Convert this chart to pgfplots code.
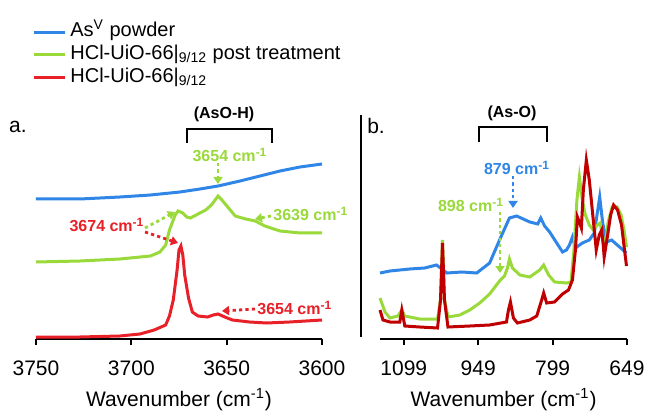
\documentclass[border=0pt]{standalone}
\usepackage{pgfplots}
\pgfplotsset{compat=1.18}
\usepackage{fontspec}
\setmainfont{Liberation Sans}
\usetikzlibrary{arrows.meta}
\definecolor{blueC}{HTML}{2F86E6}
\definecolor{greenC}{HTML}{9AD93A}
\definecolor{redC}{HTML}{E82028}
\definecolor{dredC}{HTML}{C00000}
\newcommand{\cmi}{cm\textsuperscript{-1}}
\begin{document}
\begin{tikzpicture}
\path[use as bounding box] (0,0) rectangle (323pt,206pt);
\pgfplotsset{
  panel/.style={
    at={(#1,36.5pt)}, anchor=south west, scale only axis,
    height=112pt, ymin=0, ymax=224,
    x dir=reverse,
    axis x line*=bottom, axis y line=none,
    ytick=\empty,
    tick align=outside, major tick length=3pt,
    every tick/.style={black, line width=1pt},
    axis line style={line width=1pt},
    x axis line style={-},
    tick label style={font=\fontsize{10.5}{12}\selectfont},
    xticklabel shift=4.5pt,
    /pgf/number format/assume math mode=true,
    /pgf/number format/1000 sep={},
    xlabel={Wavenumber (cm\textsuperscript{-1})},
    label style={font=\fontsize{10.5}{12}\selectfont},
    xlabel style={yshift=0.5pt},
    clip=false,
  },
}
\begin{axis}[panel=18pt, width=143pt, xmin=3600, xmax=3750,
  xtick={3750,3700,3650,3600},
  legend style={draw=none, fill=none, at={(-0.035,1.44)}, anchor=north west,
    font=\fontsize{10}{12}\selectfont, row sep=0pt,
    nodes={inner ysep=0pt, text height=8pt, text depth=3.3pt}},
  legend cell align=left,
  legend image code/.code={\draw[#1, line width=1.5pt] (0pt,0pt) -- (15.5pt,0pt);},
]
\addplot[blueC, line width=1.5pt] coordinates {
(3750,140) (3727,140) (3706,142) (3690,144) (3674.5,147) (3664,150) (3654.5,153)
(3643,158) (3632.5,163) (3622,168) (3611.5,172) (3600,175)};
\addlegendentry{As\textsuperscript{V} powder}
\addplot[greenC, line width=1.5pt] coordinates {
(3750,77) (3727,78) (3706,80) (3690,83) (3685,87) (3682,94) (3680,109) (3677,124)
(3675.5,128) (3673,126) (3671,122) (3669,121) (3666,124) (3661,129) (3658,134)
(3654.5,143) (3652.5,139) (3649,131) (3645.5,123) (3640,120) (3635,118) (3630,113)
(3622,108) (3611.5,106) (3600,106)};
\addlegendentry{HCl-UiO-66|\textsubscript{9/12} post treatment}
\addplot[redC, line width=1.5pt] coordinates {
(3750,2) (3727,2) (3706,3) (3695.5,5) (3688,9) (3682,14) (3680,23) (3678,39)
(3676,69) (3675,89) (3674,93) (3673,84) (3672,64) (3670,41) (3668,27) (3665,23)
(3660,22) (3657,24) (3654.5,25) (3651,22) (3647,19) (3638,17) (3629,16) (3617,17) (3600,19)};
\addlegendentry{HCl-UiO-66|\textsubscript{9/12}}
\end{axis}
\begin{axis}[panel=190pt, width=123.5pt, xmin=649, xmax=1147,
  xtick={1099,949,799,649}]
\addplot[blueC, line width=1.5pt] coordinates {
(1147,66) (1127,68) (1087,70) (1057,71) (1033,74) (1012,66) (982,67) (952,66)
(926,76) (906,99) (886,121) (871.5,123) (845,117) (829,115) (823,121) (815,113)
(805,107) (779,87) (771,89) (765,94) (759,102) (753,91) (739,96) (725,99) (715,106)
(704,142) (698,116) (690,97) (680,99) (664,92) (650,86)};
\addplot[greenC, line width=1.5pt] coordinates {
(1147,41) (1137,27) (1127,21) (1111,23) (1103,29) (1097,23) (1067,20) (1031,20)
(1025,39) (1021,99) (1017,39) (1010,22) (986,24) (966,29) (946,36) (926,45) (906,58)
(896,63) (890,71) (886,80) (880,71) (865,64) (845,62) (825,69) (817,74) (807,64)
(795,57) (770,56) (762,57) (756,89) (750,139) (745,162) (739,139) (733,124) (725,114)
(717,109) (709,114) (703,116) (697,99) (693,94) (687,117) (679,132) (669,132)
(661,124) (655,109) (650,92)};
\addplot[dredC, line width=1.5pt] coordinates {
(1147,29) (1141,19) (1127,17) (1107,17) (1103,29) (1097,13) (1067,12) (1031,11)
(1025,39) (1021,96) (1017,39) (1010,12) (966,13) (926,14) (892,17) (888,29) (884,37)
(878,21) (870,16) (845,19) (831,23) (821,39) (817,46) (811,36) (795,37) (779,45)
(767,49) (759,59) (753,89) (749,122) (745,117) (741,111) (737,149) (731,179)
(725,159) (721,139) (715,109) (711,89) (705,104) (700,109) (697,94) (695,82)
(688,104) (682,124) (676,134) (668,129) (660,114) (654,89) (650,73)};
\end{axis}
\begin{scope}[shift={(0pt,206pt)}, x=0.5pt, y=-0.5pt]
\tikzset{lab/.style={font=\fontsize{8}{9.5}\selectfont\bfseries, inner sep=0pt},
  darr/.style={line width=1.4pt, dash pattern=on 1.6pt off 1.6pt,
    -{Triangle[length=3.5pt,width=4.5pt]}}}
\node[font=\fontsize{10.5}{12}\selectfont, inner sep=0pt] at (18,127) {a.};
\node[font=\fontsize{10.5}{12}\selectfont, inner sep=0pt] at (376,126) {b.};
\draw[line width=1.3pt] (361,115) -- (361,337);
% panel a annotations
\node[lab] at (224,114) {(AsO-H)};
\draw[line width=1pt] (187,143) -- (187,129) -- (272,129) -- (272,143);
\node[lab, greenC] at (230,155) {3654 \cmi};
\draw[darr, greenC] (218,163) -- (218,184);
\node[lab, greenC, anchor=west] at (273,214) {3639 \cmi};
\draw[darr, greenC] (271,216) -- (255,219);
\node[lab, redC] at (107,225) {3674 \cmi};
\draw[darr, redC] (145,232) -- (178,243);
\draw[darr, greenC] (145,228) -- (175,212);
\node[lab, redC, anchor=west] at (257,308) {3654 \cmi};
\draw[darr, redC] (255,309) -- (222,311);
% panel b annotations
\node[lab] at (512,113) {(As-O)};
\draw[line width=1pt] (479,142) -- (479,127) -- (547,127) -- (547,142);
\node[lab, blueC] at (517,168) {879 \cmi};
\draw[darr, blueC] (513,176) -- (513,208);
\node[lab, greenC] at (471,205) {898 \cmi};
\draw[darr, greenC] (500,212) -- (500,273);
\end{scope}
\end{tikzpicture}
\end{document}
